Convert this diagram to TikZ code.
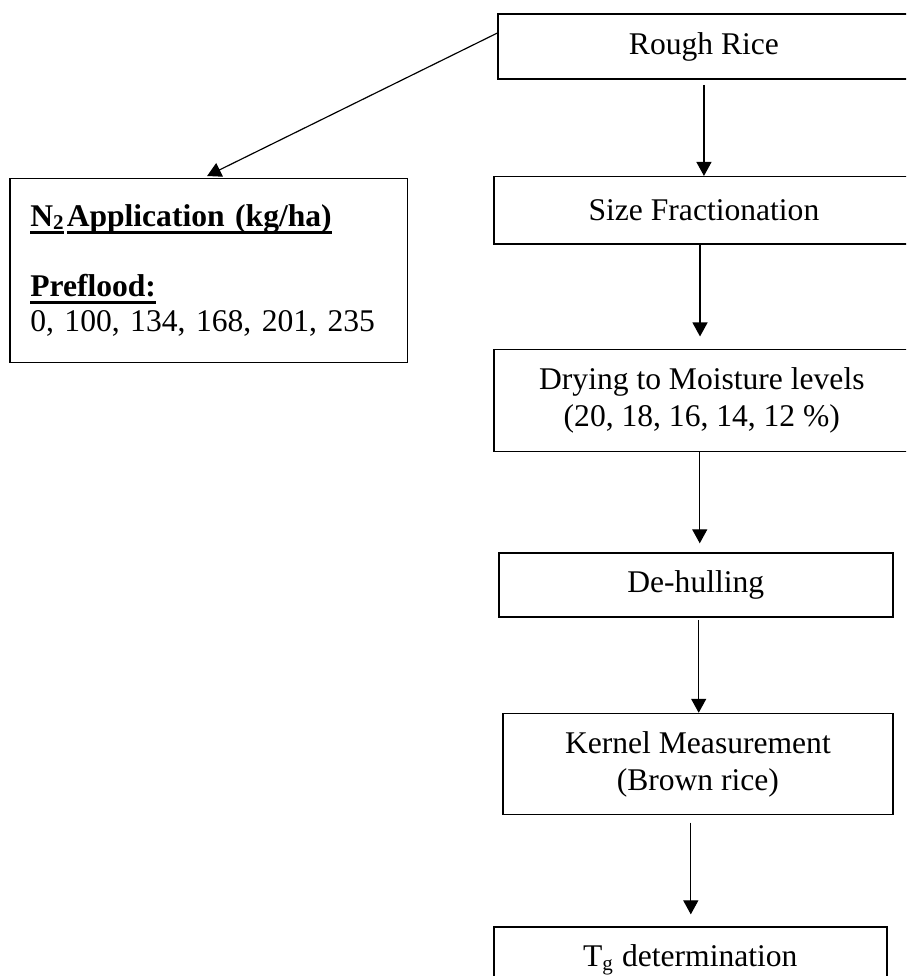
\documentclass[tikz,border=0pt]{standalone}
\usepackage{fontspec}
\setmainfont{Liberation Serif}
\usetikzlibrary{
  arrows.meta,
  positioning
}
% underline placed just under the baseline, as a word processor does it
\newcommand{\ulbase}[1]{\leavevmode\setbox0\hbox{#1}\rlap{\rule[-2.7pt]{\wd0}{0.85pt}}\box0\relax}

\begin{document}
\begin{tikzpicture}[
  stepbox/.style={
    rectangle, draw, line width=0.6pt, align=center,
    minimum height=24.7pt, inner sep=0pt,
    font=\fontsize{12}{14}\selectfont
  },
  notebox/.style={
    rectangle, draw, line width=0.6pt, align=left,
    text width=135.7pt, inner xsep=7.6pt, inner ysep=0pt,
    minimum height=69.9pt,
    font=\fontsize{12}{13.3}\selectfont
  },
  flow/.style={-{Triangle[length=5.3pt,width=5.7pt]}, line width=0.45pt}
]
  \path[use as bounding box, clip] (0,0) rectangle (344.28pt,-370.88pt);

  % process chain
  \node[stepbox, minimum width=156.6pt] (rough) at (267.5pt,-17.7pt) {Rough Rice};
  \node[stepbox, minimum width=159.6pt, minimum height=25.5pt, below=36.5pt of rough] (size)
    {Size Fractionation};
  \node[stepbox, minimum width=158pt, minimum height=38.8pt, below=39.5pt of size, xshift=-0.8pt] (drying)
    {Drying to Moisture levels\\(20, 18, 16, 14, 12 \%)};
  \node[stepbox, minimum width=149.7pt, minimum height=24.3pt, below=38pt of drying, xshift=-2.3pt] (dehull)
    {De-hulling};
  \node[stepbox, minimum width=148.2pt, minimum height=38.4pt, below=36.1pt of dehull, xshift=0.8pt] (kernel)
    {Kernel Measurement\\(Brown rice)};
  \node[stepbox, minimum width=149.3pt, below=42.2pt of kernel, xshift=-2.9pt] (tg)
    {T\textsubscript{g} determination};

  % nitrogen note
  \node[notebox, below left=37.2pt and 33.8pt of rough] (n2)
    {\textbf{\ulbase{N\raisebox{-1pt}{\fontsize{8}{8}\selectfont 2}}\hspace{1.2pt}\ulbase{Application (kg/ha)}}\\[13.3pt]
     \textbf{\ulbase{Preflood:}}\\
     0, 100, 134, 168, 201, 235};

  \draw[flow, shorten >=1.5pt] ([yshift=5.1pt]rough.west) -- ([xshift=-2pt]n2.north);
  \draw[flow, shorten <=1.9pt] (rough.south) -- (rough.south |- size.north);
  \draw[flow, shorten >=4.6pt] ([xshift=-1.5pt]size.south) -- ([xshift=-1.5pt]size.south |- drying.north);
  \draw[flow, shorten >=3.4pt] ([xshift=-0.8pt]drying.south) -- ([xshift=-0.8pt]drying.south |- dehull.north);
  \draw[flow, shorten <=0.8pt] ([xshift=1.1pt]dehull.south) -- ([xshift=1.1pt]dehull.south |- kernel.north);
  \draw[flow, shorten <=2.7pt, shorten >=4.6pt] ([xshift=-2.7pt]kernel.south) -- ([xshift=-2.7pt]kernel.south |- tg.north);
\end{tikzpicture}
\end{document}
